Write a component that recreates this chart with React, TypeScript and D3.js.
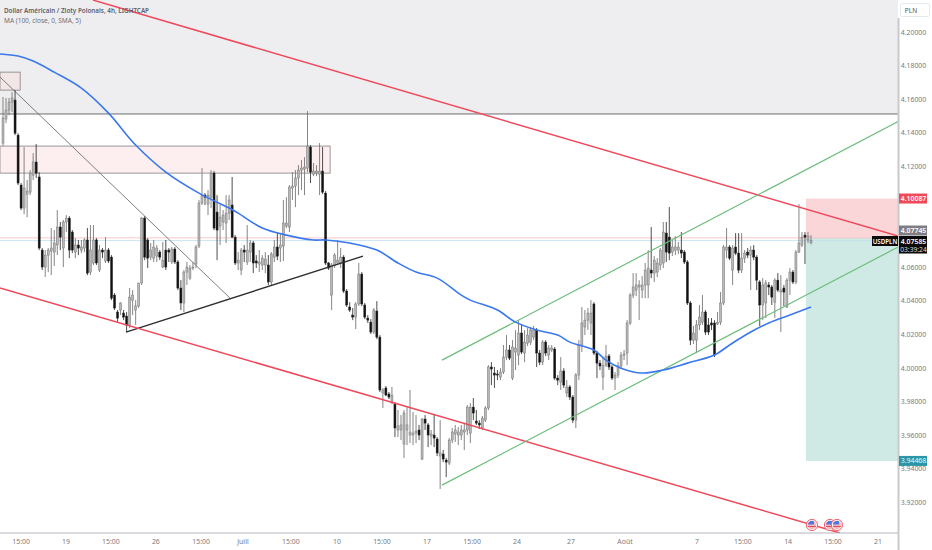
import React from "react";
import * as d3 from "d3";

// Candles: [open, high, low, close], price x 10000
const candlesJune: number[][] = [
[41339,41613,41321,41488],[41482,41607,41458,41535],[41535,41607,41505,41583],[41583,41642,41523,41607],[41595,41654,41386,41398],[41386,41398,41089,41101],[41089,41101,40940,40952],[40952,41315,40916,41071],[41035,41119,40898,41053],[41047,41178,41029,41160],
[41148,41279,41119,41226],[41226,41333,41131,41160],[41137,41166,40702,40714],[40702,40714,40583,40601],[40601,40702,40541,40672],[40672,40714,40571,40702],[40696,40833,40553,40714],[40690,40821,40607,40744],[40732,40940,40672,40839],[40839,40869,40702,40779],
[40714,40881,40601,40869],[40869,40910,40809,40892],[40892,40904,40654,40702],[40809,40821,40684,40702],[40690,40773,40654,40732],[40732,40762,40672,40714],[40702,40762,40684,40720],[40714,40773,40690,40762],[40762,40833,40553,40565],[40571,40851,40553,40702],
[40625,40851,40613,40762],[40762,40773,40613,40625],[40583,40732,40571,40702],[40702,40714,40654,40690],[40637,40779,40625,40702],[40702,40714,40625,40637],[40660,40672,40404,40416],[40434,40446,40345,40357],[40333,40345,40273,40297],[40345,40392,40315,40387],
[40327,40345,40285,40303],[40309,40333,40214,40256],[40256,40476,40238,40422],[40404,40464,40315,40434],[40345,40404,40256,40369],[40369,40506,40357,40506],[40506,40898,40494,40892],[40892,40904,40642,40660],[40762,40773,40595,40654],[40660,40744,40642,40702],
[40654,40762,40631,40720],[40666,40732,40631,40714],[40690,40702,40642,40660],[40601,40750,40595,40642],[40702,40762,40583,40601],[40702,40714,40631,40690],[40631,40720,40619,40708],[40708,40720,40619,40631],[40631,40642,40464,40476],[40476,40523,40345,40387],
[40387,40583,40333,40571],[40571,40631,40494,40601],[40535,40613,40523,40595],[40595,40631,40583,40601],[40619,40732,40595,40720],[40726,41000,40714,40982],[40982,41190,40970,41029],[41029,41041,40970,41017],[40976,41059,40910,41029],[41017,41178,40952,41160],
[41160,41172,40821,40833],[40928,41029,40642,40821],[40845,40970,40732,40898],[40869,40940,40821,40910],[40863,41029,40744,40922],[40922,41029,40881,41000],[40970,41137,40773,40779],[40779,40791,40613,40625],[40625,40690,40583,40642],[40583,40714,40553,40702],
];
const candlesJuly: number[][] = [
[40702,40732,40631,40690],[40631,40851,40613,40702],[40690,40762,40631,40744],[40744,40756,40565,40625],[40637,40672,40595,40625],[40619,40702,40571,40631],[40613,40672,40583,40654],[40613,40690,40565,40648],[40613,40672,40494,40512],[40512,40690,40488,40678],
[40660,40762,40631,40720],[40720,40809,40642,40666],[40714,40803,40631,40732],[40726,41000,40637,40863],[40845,41017,40833,40863],[40839,41089,40809,41077],[41071,41166,41000,41083],[41083,41178,40958,41131],[41131,41208,41029,41178],[41178,41238,41059,41190],
[41184,41255,41029,41196],[41190,41529,41166,41321],[41315,41327,41101,41166],[41154,41220,41142,41172],[41160,41208,41142,41172],[41154,41339,41029,41172],[41172,41315,41035,41047],[41041,41053,40613,40625],[40625,40631,40583,40595],[40434,40625,40345,40613],
[40613,40684,40595,40672],[40625,40762,40613,40642],[40625,40714,40595,40660],[40660,40672,40446,40458],[40458,40470,40363,40375],[40363,40392,40333,40345],[40315,40357,40285,40303],[40303,40392,40232,40381],[40381,40625,40369,40559],[40559,40571,40369,40381],
[40375,40387,40291,40303],[40297,40315,40268,40285],[40273,40291,40202,40214],[40214,40357,40202,40345],[40339,40398,40172,40184],[40184,40196,39857,39869],[39851,39881,39762,39869],[39881,39893,39833,39839],[39845,39857,39815,39827],[39797,39887,39785,39839],
[39785,39797,39589,39643],[39631,39750,39589,39655],[39631,39720,39571,39661],[39547,39750,39464,39732],[39631,39767,39541,39661],[39601,39869,39553,39619],[39601,39738,39541,39613],[39613,39720,39553,39625],[39631,39661,39571,39601],[39458,39702,39452,39696],
[39696,39720,39631,39672],[39661,39672,39529,39601],[39595,39631,39541,39607],[39601,39720,39529,39583],[39577,39589,39476,39494],[39476,39690,39280,39494],[39488,39512,39440,39458],[39452,39464,39351,39440],[39434,39583,39422,39571],[39571,39643,39553,39619],
[39607,39661,39559,39631],[39601,39648,39541,39619],[39601,39661,39571,39631],[39619,39672,39512,39631],[39631,39779,39601,39767],[39613,39791,39553,39767],[39767,39821,39690,39732],[39684,39750,39661,39672],[39672,39690,39637,39661],[39643,39714,39631,39702],
[39690,39773,39678,39762],[39762,40017,39750,40006],[40006,40035,39898,39994],[39970,40006,39881,39958],[39964,39988,39928,39958],[39946,39999,39928,39976],[39976,40137,39964,40065],[40065,40196,40047,40107],[40107,40137,40047,40059],[39940,40166,39928,40125],
];
const candlesAugust: number[][] = [
[40095,40226,39988,40119],[40077,40285,40017,40208],[40208,40256,40083,40095],[40089,40226,40035,40154],[40148,40238,40131,40196],[40154,40244,40137,40226],[40184,40250,40166,40226],[40226,40238,40006,40089],[40089,40107,40017,40035],[40035,40166,40017,40154],
[40154,40166,40071,40089],[40077,40137,40047,40119],[40107,40137,40095,40119],[40113,40125,39928,39940],[39940,39958,39898,39928],[39916,40065,39869,39982],[39982,39999,39881,39898],[39851,39928,39827,39887],[39887,39898,39809,39827],[39827,39839,39672,39690],
[39690,39970,39643,39958],[39958,40166,39928,40137],[40137,40363,40095,40268],[40244,40345,40196,40285],[40285,40357,40226,40327],[40268,40404,40196,40327],[40381,40392,40077,40089],[40089,40101,39940,40029],[40029,40047,39988,40012],[39946,40059,39869,40017],
[40017,40137,40006,40071],[40071,40083,39988,40006],[40006,40017,39928,39940],[39940,39976,39869,39958],[39958,40035,39940,40012],[40012,40095,40000,40077],[40077,40107,40047,40083],[40089,40285,40017,40268],[40268,40446,40256,40434],[40434,40565,40416,40482],
[40464,40565,40428,40494],[40482,40523,40285,40494],[40464,40547,40416,40494],[40494,40625,40416,40583],[40494,40702,40416,40595],[40583,40839,40535,40565],[40565,40666,40512,40642],[40571,40654,40541,40625],[40613,40714,40583,40702],[40625,40869,40595,40809],
[40803,40869,40631,40690],[40779,40958,40642,40684],[40690,40762,40666,40720],[40702,40785,40672,40720],[40702,40750,40678,40720],[40702,40809,40654,40684],[40690,40702,40619,40631],[40631,40642,40375,40387],[40387,40398,40137,40166],[40166,40250,40143,40208],
[40166,40285,40089,40256],[40256,40375,40226,40303],[40273,40434,40256,40333],[40333,40345,40196,40214],[40256,40297,40196,40214],[40268,40297,40226,40256],[40268,40285,40065,40077],[40262,40333,40256,40273],[40273,40452,40256,40387],[40387,40732,40375,40720],
[40702,40833,40654,40720],[40720,40732,40642,40654],[40583,40732,40494,40714],[40720,40803,40672,40684],[40684,40803,40565,40583],[40583,40803,40565,40654],[40654,40702,40625,40684],[40690,40714,40654,40672],[40672,40726,40464,40702],[40702,40732,40642,40660],
[40660,40672,40464,40523],[40512,40523,40250,40375],[40375,40535,40285,40494],[40387,40523,40297,40506],[40494,40512,40434,40482],[40482,40494,40375,40422],[40392,40535,40297,40523],[40523,40565,40452,40464],[40452,40553,40214,40464],[40476,40494,40369,40452],
[40363,40535,40357,40523],[40523,40595,40434,40571],[40571,40583,40500,40512],[40512,40702,40500,40690],[40690,40976,40684,40744],[40732,40809,40720,40779],[40791,40809,40619,40779],[40762,40809,40744,40785],[40745,40791,40736,40759],
];

// 100-period moving average: bar index, price x 10000
const maBars = [-1,5,10,17,26,35,44,54,65,75,78,86,94,103,107,115,124,131,137,144,152,155,164,170,177,184,188,196,200,205,212,219,227,236,241,248,254,261,268];
const maValues = [41869,41857,41827,41761,41666,41517,41327,41166,41041,40952,40922,40833,40791,40762,40762,40744,40702,40625,40571,40535,40434,40404,40345,40273,40226,40196,40154,40107,40047,39999,39970,39988,40029,40077,40137,40214,40268,40315,40363];

// Time axis: bar position and label
const timeTickBars = [6,20.9,35.8,50.7,65.7,79.6,95.5,110.8,125.7,140.6,155.6,170.5,188.4,206.3,230.2,245.4,260.4,275.3,290.2];
const timeTickLabels = ["15:00","19","15:00","26","15:00","Juill","15:00","10","15:00","17","15:00","24","27","Août","7","15:00","14","15:00","21"];

// Price axis
const priceTicks = [4.2,4.18,4.16,4.14,4.12,4.1,4.06,4.04,4.02,4.0,3.98,3.96,3.94,3.92];

// Trend lines: [barA, priceA, barB, priceB], price x 10000
const upperRed = [29.85,42190,296.9,40785];
const lowerRed = [-1,40476,277.6,39018];
const thinDiagonal = [-1,41732,75.3,40416];
const blackTrend = [40.8,40214,119.4,40666];
const greenUpper = [145.6,40047,296.9,41467];
const greenLower = [145.6,39303,296.9,40720];

// Zones: [barA, barB, priceTop, priceBottom], price x 10000
const resistanceLevel = 41512;
const supplyZone = [-1,108.5,41321,41160];
const smallZone = [-1,5.7,41761,41654];

// Short position tool
const stopPrice = 4.10087;
const entryPrice = 4.07745;
const targetPrice = 3.94468;
const lastPrice = 4.07585;
const positionBars = [266.3,296.9];
const eventBars = [268.3,274.3,276.6];

const W = 932, H = 550, axisX = 898, axisY = 533;
const FONT = "'Noto Sans', 'Open Sans', sans-serif";
const TAG_X = 899, TAG_W = 28, TEXT_X = 913.5;

const candles = [...candlesJune, ...candlesJuly, ...candlesAugust];
const x = d3.scaleLinear().domain([0, 268]).range([3, 811]);
const y = d3.scaleLinear().domain([4.2, 3.92]).range([32, 502.4]);
const yv = (v: number) => y(v / 10000);

const maLine = d3.line<number>()
  .x((_, i) => x(maBars[i]))
  .y((v) => yv(v))
  .curve(d3.curveCatmullRom.alpha(0.5));

function Trend({ d, color, width }: { d: number[]; color: string; width: number }) {
  return <line x1={x(d[0])} y1={yv(d[1])} x2={x(d[2])} y2={yv(d[3])} stroke={color} strokeWidth={width} />;
}

function Zone({ d, fill }: { d: number[]; fill: string }) {
  return <rect x={x(d[0])} y={yv(d[2])} width={x(d[1]) - x(d[0])} height={yv(d[3]) - yv(d[2])} fill={fill} stroke="#8f8d8d" strokeWidth={0.9} />;
}

function Tag({ py, h, fill, text, color = "#fff", bold = false }: { py: number; h: number; fill: string; text: string; color?: string; bold?: boolean }) {
  return (
    <g>
      <rect x={TAG_X} y={py - h / 2} width={TAG_W} height={h} fill={fill} />
      <text x={TEXT_X} y={py + 2.5} textAnchor="middle" fontSize={6.9} fill={color} fontWeight={bold ? 600 : 400}>{text}</text>
    </g>
  );
}

export default function App() {
  const xRight = x(positionBars[1]);
  const xLeft = x(positionBars[0]);
  return (
    <svg width={W} height={H} viewBox={`0 0 ${W} ${H}`} fontFamily={FONT} style={{ position: "absolute", left: 0, top: 0, background: "#fff" }}>
      <defs>
        <clipPath id="pane"><rect x={0} y={0} width={axisX} height={axisY} /></clipPath>
      </defs>
      <g clipPath="url(#pane)">
        <rect x={0} y={0} width={axisX} height={yv(resistanceLevel)} fill="#eeeef0" />
        <line x1={0} x2={axisX} y1={yv(resistanceLevel)} y2={yv(resistanceLevel)} stroke="#6e6e6e" strokeWidth={1} />
        <Zone d={supplyZone} fill="#fdeff0" />
        <Zone d={smallZone} fill="#f3e6e7" />
        <rect x={xLeft} y={y(stopPrice)} width={xRight - xLeft} height={y(entryPrice) - y(stopPrice)} fill="#fbd6d9" />
        <rect x={xLeft} y={y(entryPrice)} width={xRight - xLeft} height={y(targetPrice) - y(entryPrice)} fill="#cfeae4" />
        <line x1={0} x2={axisX} y1={y(entryPrice)} y2={y(entryPrice)} stroke="#f7b8bd" strokeWidth={0.8} />
        <line x1={0} x2={axisX} y1={y(lastPrice)} y2={y(lastPrice)} stroke="#bfe0ee" strokeWidth={0.8} />
        <Trend d={thinDiagonal} color="#6f6f6f" width={0.9} />
        {candles.map((c, i) => {
          const up = c[3] >= c[0];
          const top = yv(Math.max(c[0], c[3]));
          const bot = yv(Math.min(c[0], c[3]));
          const cx = x(i);
          return (
            <g key={i}>
              <line x1={cx} x2={cx} y1={yv(c[1])} y2={yv(c[2])} stroke={up ? "#777" : "#3a3a3a"} strokeWidth={0.9} />
              <rect x={cx - 1} y={top} width={2} height={Math.max(bot - top, 1)} fill={up ? "#b8b8b8" : "#111"} stroke={up ? "#777" : "#222"} strokeWidth={0.5} />
            </g>
          );
        })}
        <Trend d={blackTrend} color="#2e2e2e" width={1.4} />
        <Trend d={upperRed} color="#f0485a" width={1.5} />
        <Trend d={lowerRed} color="#f0485a" width={1.5} />
        <Trend d={greenUpper} color="#6dbd7c" width={1.2} />
        <Trend d={greenLower} color="#6dbd7c" width={1.2} />
        <path d={maLine(maValues) ?? ""} fill="none" stroke="#3a78ee" strokeWidth={1.6} />
        {eventBars.map((b, i) => (
          <g key={i} transform={`translate(${x(b)},525)`}>
            <circle r={5.6} fill="#fff" stroke="#f0606c" strokeWidth={1} />
            <circle r={4.2} fill="#f6b7bc" />
            <path d="M-4,-0.5 A4.2,4.2 0 0 1 2,-3.7 L2,-0.5 Z" fill="#4a78e0" />
            <rect x={-4} y={1} width={8} height={1} fill="#e05060" />
          </g>
        ))}
      </g>

      <text x={4} y={12.5} fontSize={7} fontWeight={600} fill="#5f6068" textLength={145} lengthAdjust="spacingAndGlyphs">Dollar Américain / Zloty Polonais, 4h, LIGHTCAP</text>
      <text x={4} y={22.5} fontSize={7} fill="#6f7078" textLength={77} lengthAdjust="spacingAndGlyphs">MA (100, close, 0, SMA, 5)</text>

      {/* axes */}
      <line x1={0} x2={axisX} y1={axisY} y2={axisY} stroke="#b4b4be" strokeWidth={1} />
      <rect x={axisX - 0.5} y={18} width={2} height={H - 18} fill="#c9c9cc" />
      {timeTickBars.map((b, i) => (
        <text key={i} x={x(b)} y={543.5} textAnchor="middle" fontSize={6.9} fill="#7a7a80">{timeTickLabels[i]}</text>
      ))}
      {priceTicks.map((p) => (
        <text key={p} x={TEXT_X} y={y(p) + 2.5} textAnchor="middle" fontSize={6.9} fill="#7a7a80">{p.toFixed(5)}</text>
      ))}
      <rect x={900.5} y={3.5} width={29} height={13} rx={2} fill="#fff" stroke="#e3eaef" strokeWidth={1} />
      <text x={911} y={12.5} textAnchor="middle" fontSize={6.5} fill="#555">PLN</text>

      <Tag py={y(stopPrice)} h={10} fill="#ee4a58" text={stopPrice.toFixed(5)} bold />
      <Tag py={230.5} h={10} fill="#7e7e84" text={entryPrice.toFixed(5)} bold />
      <Tag py={241} h={10} fill="#0a0a0a" text={lastPrice.toFixed(5)} bold />
      <rect x={TAG_X} y={246} width={TAG_W} height={7.5} fill="#0a0a0a" />
      <text x={TEXT_X} y={252} textAnchor="middle" fontSize={6.7} fill="#ddd">03:39:24</text>
      <rect x={872} y={236} width={26} height={10} fill="#0a0a0a" />
      <text x={885} y={243.5} textAnchor="middle" fontSize={6.2} fill="#fff" fontWeight={600}>USDPLN</text>
      <Tag py={y(targetPrice)} h={10} fill="#2a96a8" text={targetPrice.toFixed(5)} color="#e6f7f4" />
    </svg>
  );
}
